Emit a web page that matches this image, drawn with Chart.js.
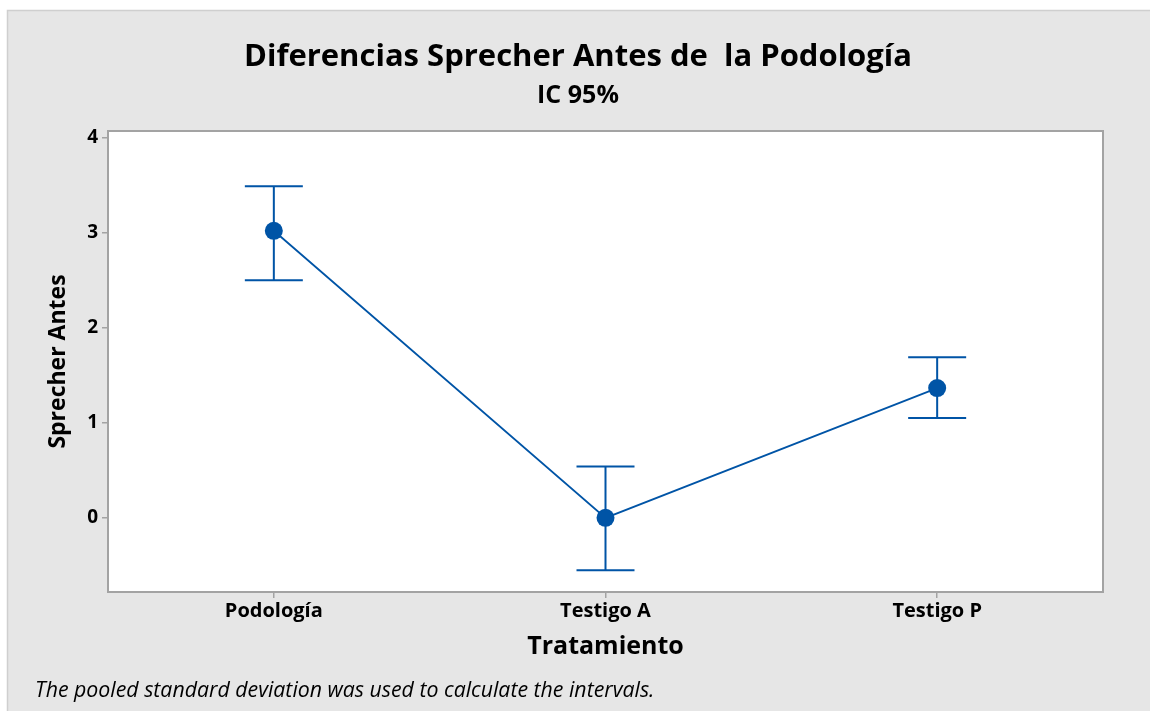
<!DOCTYPE html>
<html>
<head>
<meta charset="utf-8">
<script src="https://cdn.jsdelivr.net/npm/chart.js@4.4.1/dist/chart.umd.min.js"></script>
<style>
  html, body { margin: 0; padding: 0; background: #ffffff; }
  #wrap { width: 1150px; height: 711px; position: relative; }
</style>
</head>
<body>
<div id="wrap"><canvas id="c" width="1150" height="711"></canvas></div>
<script>
// ---- data ----
const categories = ["Podología", "Testigo A", "Testigo P"];
const means = [3.02, 0.00, 1.365];
const upperCI = [3.49, 0.54, 1.69];
const lowerCI = [2.50, -0.55, 1.05];
const yTicks = [0, 1, 2, 3, 4];

const titleText = "Diferencias Sprecher Antes de  la Podología";
const subtitleText = "IC 95%";
const xTitleText = "Tratamiento";
const yTitleText = "Sprecher Antes";
const footnoteText = "The pooled standard deviation was used to calculate the intervals.";

const BLUE = "#0054a6";
const FONT = "'Open Sans', 'Noto Sans', sans-serif";

const backgroundPlugin = {
  id: "bg",
  beforeDraw(chart) {
    const ctx = chart.ctx;
    const a = chart.chartArea;
    ctx.save();
    ctx.fillStyle = "#ffffff";
    ctx.fillRect(0, 0, chart.width, chart.height);
    ctx.fillStyle = "#e6e6e6";
    ctx.fillRect(7, 10, chart.width - 7, chart.height - 10);
    ctx.strokeStyle = "#cfcfcf";
    ctx.lineWidth = 1.5;
    ctx.beginPath();
    ctx.moveTo(7.5, chart.height);
    ctx.lineTo(7.5, 10.5);
    ctx.lineTo(chart.width, 10.5);
    ctx.stroke();
    ctx.fillStyle = "#ffffff";
    ctx.fillRect(a.left, a.top, a.right - a.left, a.bottom - a.top);
    ctx.restore();
  },
  afterDraw(chart) {
    const ctx = chart.ctx;
    const a = chart.chartArea;
    ctx.save();
    ctx.strokeStyle = "#a3a3a3";
    ctx.lineWidth = 2;
    ctx.strokeRect(a.left, a.top, a.right - a.left, a.bottom - a.top);

    ctx.fillStyle = "#000000";
    ctx.textAlign = "center";
    ctx.textBaseline = "alphabetic";
    ctx.font = "700 31px " + FONT;
    ctx.fillText(titleText, 578, 66);
    ctx.font = "700 25px " + FONT;
    ctx.fillText(subtitleText, 578, 103);
    ctx.font = "700 25px " + FONT;
    ctx.fillText(xTitleText, (a.left + a.right) / 2, 654);

    ctx.save();
    ctx.translate(65, (a.top + a.bottom) / 2);
    ctx.rotate(-Math.PI / 2);
    ctx.font = "700 23px " + FONT;
    ctx.fillText(yTitleText, 0, 0);
    ctx.restore();

    ctx.textAlign = "left";
    ctx.font = "italic 21.3px " + FONT;
    ctx.fillText(footnoteText, 35, 697);
    ctx.restore();
  }
};

const errorBarPlugin = {
  id: "errorBars",
  beforeDatasetsDraw(chart) {
    const ctx = chart.ctx;
    const xs = chart.scales.x, ys = chart.scales.y;
    ctx.save();
    ctx.strokeStyle = BLUE;
    ctx.lineWidth = 2;
    const half = 29;
    categories.forEach((c, i) => {
      const px = xs.getPixelForValue(i);
      const pu = ys.getPixelForValue(upperCI[i]);
      const pl = ys.getPixelForValue(lowerCI[i]);
      ctx.beginPath();
      ctx.moveTo(px, pu); ctx.lineTo(px, pl);
      ctx.moveTo(px - half, pu); ctx.lineTo(px + half, pu);
      ctx.moveTo(px - half, pl); ctx.lineTo(px + half, pl);
      ctx.stroke();
    });
    ctx.restore();
  }
};

new Chart(document.getElementById("c"), {
  type: "line",
  data: {
    datasets: [{
      data: categories.map((c, i) => ({ x: i, y: means[i] })),
      borderColor: BLUE,
      borderWidth: 1.8,
      pointRadius: 9,
      pointHoverRadius: 9,
      pointBackgroundColor: BLUE,
      pointBorderWidth: 0,
      tension: 0
    }]
  },
  options: {
    responsive: false,
    animation: false,
    events: [],
    layout: { padding: { left: 0, right: 47, top: 131, bottom: 0 } },
    plugins: { legend: { display: false }, tooltip: { enabled: false }, title: { display: false } },
    scales: {
      x: {
        type: "linear",
        min: -0.5,
        max: 2.5,
        afterBuildTicks(scale) { scale.ticks = categories.map((c, i) => ({ value: i })); },
        afterFit(scale) { scale.height = 119; },
        grid: { drawOnChartArea: false, drawTicks: true, tickLength: 6, color: "#a3a3a3", lineWidth: 1.5 },
        border: { display: false },
        ticks: {
          padding: 1,
          color: "#000000",
          font: { family: FONT, size: 20, weight: "700" },
          maxRotation: 0,
          callback: (v) => categories[v]
        }
      },
      y: {
        type: "linear",
        min: -0.78,
        max: 4.07,
        afterBuildTicks(scale) { scale.ticks = yTicks.map(v => ({ value: v })); },
        afterFit(scale) { scale.width = 108; },
        grid: { drawOnChartArea: false, drawTicks: true, tickLength: 6, color: "#a3a3a3", lineWidth: 1.5 },
        border: { display: false },
        ticks: {
          padding: 4,
          color: "#000000",
          font: { family: FONT, size: 19, weight: "700" }
        }
      }
    }
  },
  plugins: [backgroundPlugin, errorBarPlugin]
});
</script>
</body>
</html>
